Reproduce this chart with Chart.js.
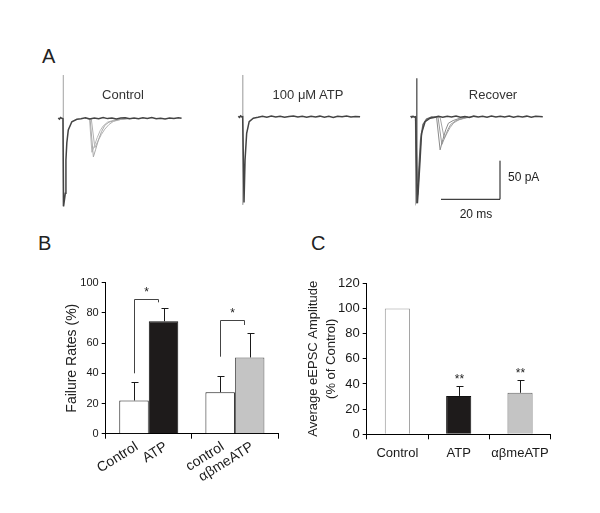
<!DOCTYPE html>
<html>
<head>
<meta charset="utf-8">
<script src="https://cdn.jsdelivr.net/npm/chart.js@4.4.1/dist/chart.umd.min.js"></script>
<style>
body{margin:0;background:#fff;width:600px;height:513px;position:relative;overflow:hidden;font-family:"Liberation Sans",Arial,sans-serif;color:#222}
.box{position:absolute}
.lbl{position:absolute;white-space:nowrap;line-height:1}
.ctr{transform:translateX(-50%)}
</style>
</head>
<body>
<div class="lbl" style="left:42px;top:46px;font-size:20px">A</div>
<div class="lbl" style="left:38px;top:233px;font-size:20px">B</div>
<div class="lbl" style="left:311px;top:233px;font-size:20px">C</div>

<div class="box" style="left:50px;top:60px;width:140px;height:160px"><canvas id="trControl"></canvas></div>
<div class="box" style="left:230px;top:60px;width:140px;height:160px"><canvas id="trAtp"></canvas></div>
<div class="box" style="left:400px;top:60px;width:150px;height:160px"><canvas id="trRecover"></canvas></div>

<div class="lbl ctr" style="left:123px;top:88px;font-size:13px;color:#333">Control</div>
<div class="lbl ctr" style="left:308px;top:88px;font-size:13px;color:#333">100 μM ATP</div>
<div class="lbl ctr" style="left:493px;top:88px;font-size:13px;color:#333">Recover</div>
<div class="lbl" style="left:508px;top:171px;font-size:12px">50 pA</div>
<div class="lbl ctr" style="left:476px;top:208px;font-size:12px">20 ms</div>

<div class="box" style="left:30px;top:270px;width:270px;height:240px"><canvas id="chartB"></canvas></div>
<div class="box" style="left:300px;top:270px;width:290px;height:240px"><canvas id="chartC"></canvas></div>

<script>
// ---- panel A: example sweeps (time in ms, current in pA) ----
var ctrlT = [2.8, 3.2, 3.6, 4.0, 4.4, 4.6, 5.2, 5.4, 5.7, 6.2, 7.4, 9.1, 10.5, 12, 13.5, 15, 16.5, 18, 19.5, 21, 22.5, 24, 25.5, 27, 28.5, 30, 31.5, 33, 34.5, 36, 37.5, 39, 40.5, 42, 43.5, 44.6];
var ctrlV = [0.5, -1, 1, 0, -0.5, -114, -97, -54, -32, -15, -4.4, -1.3, -0.5, 0.6, -0.8, 0.4, -0.6, 0.9, -0.4, 0.5, -0.9, 0.3, 0.8, -0.5, 0.4, -0.7, 0.6, -0.3, 0.9, -0.6, 0.2, -0.8, 0.5, -0.4, 0.7, 0];
var ctrlArtT = [4.45, 4.5, 4.55];
var ctrlArtV = [0, 56, -114];
var ctrlEpsc1T = [12, 13.6, 14.7, 15.5, 16.5, 17.5, 18.6, 20, 23, 27];
var ctrlEpsc1V = [0, -1, -50, -40, -27, -17, -9, -5, -2, 0];
var ctrlEpsc2T = [12, 13.4, 14.2, 15, 16, 17, 18, 19.5, 22, 26];
var ctrlEpsc2V = [0, -1, -44, -36, -25, -16, -10, -5, -2, 0];
var ctrlEpsc3T = [12, 14.0, 15.2, 16.2, 17.4, 18.6, 20, 21.5, 24, 28];
var ctrlEpsc3V = [0, -1, -38, -30, -21, -14, -8, -4, -1.5, 0];

var atpT = [2.8, 3.2, 3.6, 4.0, 4.3, 4.75, 5.1, 5.65, 6.5, 7.9, 9.5, 11, 12.5, 14, 15.5, 17, 18.5, 20, 21.5, 23, 24.5, 26, 27.5, 29, 30.5, 32, 33.5, 35, 36.5, 38, 39.5, 41, 42.5, 44.1];
var atpV = [0.6, -0.8, 1, -0.3, 0, -111, -56, -21.5, -6.5, -2, -0.8, 0.5, -0.6, 0.8, -0.4, 0.6, -0.7, 0.3, 0.9, -0.5, 0.4, -0.8, 0.6, -0.3, 0.7, -0.6, 0.4, -0.9, 0.5, -0.2, 0.8, -0.5, 0.3, 0];
var atpArtT = [4.25, 4.3, 4.35];
var atpArtV = [0, 54, -114];

var recT = [3.6, 4.0, 4.4, 4.8, 5.3, 5.9, 6.2, 6.8, 7.3, 8.5, 10.2, 11.5, 13, 14.5, 16, 17.5, 19, 20.5, 22, 23.5, 25, 26.5, 28, 29.5, 31, 32.5, 34, 35.5, 37, 38.5, 40, 41.5, 43, 44.5, 46, 48.4];
var recV = [1, -0.8, 0.7, -0.5, 0, -112, -95, -56, -21.5, -6.5, -2, -1, 0.6, -0.8, 0.5, -0.4, 0.9, -0.6, 0.3, -0.9, 0.7, -0.3, 0.5, -0.7, 0.8, -0.4, 0.6, -0.5, 0.9, -0.8, 0.4, -0.3, 0.7, -0.6, 0.5, 0];
var rec2T = [5.3, 5.5, 6.0, 6.5, 7.0, 7.8, 9.0, 11];
var rec2V = [0, -108, -100, -62, -30, -10, -3, 0];
var recArtT = [5.6, 5.66, 5.72];
var recArtV = [0, 49.7, -112];
var recEpsc1T = [11, 12.4, 13.6, 14.5, 15.5, 16.4, 18, 20.3, 23];
var recEpsc1V = [0, -1, -43, -30, -17, -8.5, -5, -2, 0];
var recEpsc2T = [11, 12.9, 14.2, 15.2, 16.2, 17.2, 19, 21.5, 24];
var recEpsc2V = [0, -1, -36, -27, -17, -10, -5, -2, 0];
var recEpsc3T = [11, 13.6, 15.0, 16.0, 17.0, 18.2, 20, 22.5, 25];
var recEpsc3V = [0, -1, -28, -21, -14, -8, -4, -1.5, 0];

// scale bar: 20 ms, 50 pA
var scaleBarT = [13.9, 33.9, 33.9];
var scaleBarV = [-107, -107, -57];

// ---- panel B: failure rates (%) ----
var failLabels = ['Control', 'ATP', 'control', 'αβmeATP'];
var failControl = [22, 27.5];
var failControlErr = [12, 10.5];
var failDrug = [74.5, 50.5];
var failDrugErr = [9, 16];
var sigBrackets = [[40, 89, 87], [51, 75, 72]];
var sigStars = ['*', '*'];

// ---- panel C: eEPSC amplitude (% of control) ----
var ampLabels = ['Control', 'ATP', 'αβmeATP'];
var ampValues = [100, 30.5, 33];
var ampErr = [0, 7.7, 10];
var ampStars = ['', '**', '**'];

var FONT = '"Liberation Sans", Arial, sans-serif';

function pts(t, v) {
  return t.map(function(x, i) { return {x: x, y: v[i]}; });
}

function trace(t, v, color, width) {
  return {data: pts(t, v), borderColor: color, borderWidth: width, showLine: true, pointRadius: 0, tension: 0};
}

function traceChart(id, xMax, yMin, yMax, sets) {
  new Chart(document.getElementById(id), {
    type: 'scatter',
    data: {datasets: sets},
    options: {
      responsive: true, maintainAspectRatio: false, animation: false,
      layout: {padding: 0},
      plugins: {legend: {display: false}, tooltip: {enabled: false}},
      scales: {
        x: {type: 'linear', display: false, min: 0, max: xMax},
        y: {type: 'linear', display: false, min: yMin, max: yMax}
      }
    }
  });
}

// first dataset is painted on top
traceChart('trControl', 140 / 2.95, -131.7, 75.5, [
  trace(ctrlT, ctrlV, '#444', 1.5),
  trace(ctrlArtT, ctrlArtV, '#b5b5b5', 1),
  trace(ctrlEpsc1T, ctrlEpsc1V, '#a8a8a8', 1),
  trace(ctrlEpsc2T, ctrlEpsc2V, '#b8b8b8', 1),
  trace(ctrlEpsc3T, ctrlEpsc3V, '#b0b0b0', 1)
]);

traceChart('trAtp', 140 / 2.95, -133.8, 73.4, [
  trace(atpT, atpV, '#444', 1.5),
  trace(atpArtT, atpArtV, '#b5b5b5', 1)
]);

traceChart('trRecover', 150 / 2.95, -133.8, 73.4, [
  trace(recT, recV, '#444', 1.5),
  trace(scaleBarT, scaleBarV, '#111', 1),
  trace(rec2T, rec2V, '#6a6a6a', 1.5),
  trace(recArtT, recArtV, '#666', 1.5),
  trace(recEpsc1T, recEpsc1V, '#8a8a8a', 1),
  trace(recEpsc2T, recEpsc2V, '#9a9a9a', 1),
  trace(recEpsc3T, recEpsc3V, '#a5a5a5', 1)
]);

// error bars (+SEM) and significance marks
var errorBars = {
  id: 'errorBars',
  afterDatasetsDraw: function(chart) {
    var ctx = chart.ctx, y = chart.scales.y;
    ctx.save();
    ctx.lineWidth = 1;
    ctx.strokeStyle = '#1a1a1a';
    ctx.fillStyle = '#222';
    ctx.font = '12px ' + FONT;
    ctx.textAlign = 'center';
    ctx.textBaseline = 'middle';
    chart.data.datasets.forEach(function(ds, di) {
      chart.getDatasetMeta(di).data.forEach(function(bar, i) {
        var e = ds.errors ? ds.errors[i] : 0;
        if (!e) return;
        var x = Math.round(bar.x) + 0.5;
        var top = Math.round(y.getPixelForValue(ds.data[i] + e)) + 0.5;
        ctx.beginPath();
        ctx.moveTo(x, bar.y);
        ctx.lineTo(x, top);
        ctx.moveTo(x - 3, top);
        ctx.lineTo(x + 4, top);
        ctx.stroke();
        if (ds.stars && ds.stars[i]) ctx.fillText(ds.stars[i], x, top - 7);
      });
    });
    ctx.restore();
  }
};

// rotated per-bar labels for panel B
var barLabels = {
  id: 'barLabels',
  afterDraw: function(chart) {
    var ctx = chart.ctx, bottom = chart.chartArea.bottom;
    ctx.save();
    ctx.fillStyle = '#1a1a1a';
    ctx.textAlign = 'right';
    ctx.textBaseline = 'top';
    chart.data.datasets.forEach(function(ds, di) {
      chart.getDatasetMeta(di).data.forEach(function(bar, i) {
        var txt = ds.tickLabels[i];
        ctx.font = (txt.length > 7 ? 13 : 14) + 'px ' + FONT;
        ctx.save();
        ctx.translate(bar.x - 1, bottom + 6);
        ctx.rotate(-32 * Math.PI / 180);
        ctx.fillText(txt, 0, 0);
        ctx.restore();
      });
    });
    ctx.restore();
  }
};

var brackets = {
  id: 'brackets',
  afterDatasetsDraw: function(chart) {
    var ctx = chart.ctx, y = chart.scales.y;
    var m0 = chart.getDatasetMeta(0).data, m1 = chart.getDatasetMeta(1).data;
    ctx.save();
    ctx.strokeStyle = '#444';
    ctx.lineWidth = 1;
    ctx.fillStyle = '#222';
    ctx.font = '12px ' + FONT;
    ctx.textAlign = 'center';
    ctx.textBaseline = 'middle';
    sigBrackets.forEach(function(b, i) {
      var x0 = Math.round(m0[i].x) + 0.5;
      var x1 = Math.round(m1[i].x - 6) + 0.5;
      var yTop = Math.round(y.getPixelForValue(b[1])) + 0.5;
      ctx.beginPath();
      ctx.moveTo(x0, y.getPixelForValue(b[0]));
      ctx.lineTo(x0, yTop);
      ctx.lineTo(x1, yTop);
      ctx.lineTo(x1, y.getPixelForValue(b[2]));
      ctx.stroke();
      ctx.fillText(sigStars[i], (x0 + x1) / 2, yTop - 7);
    });
    ctx.restore();
  }
};

function axisX(h, showTicks) {
  return {
    ticks: {display: showTicks, color: '#1a1a1a', font: {size: 13, family: FONT}, padding: 6, maxRotation: 0},
    grid: {drawOnChartArea: false, color: '#000', tickLength: 5},
    border: {color: '#000', width: 1},
    afterFit: function(s) { s.height = h; }
  };
}

function axisY(w, max, size, title, titleSize, titlePad) {
  return {
    min: 0, max: max,
    ticks: {stepSize: 20, color: '#1a1a1a', font: {size: size, family: FONT}, padding: 3},
    grid: {drawOnChartArea: false, color: '#000', tickLength: 4},
    border: {color: '#000', width: 1},
    title: {display: true, text: title, color: '#222', font: {size: titleSize, family: FONT, lineHeight: 1.35}, padding: {top: titlePad, bottom: 0}},
    afterFit: function(s) { s.width = w; }
  };
}

new Chart(document.getElementById('chartB'), {
  type: 'bar',
  data: {
    labels: ['Control / ATP', 'control / αβmeATP'],
    datasets: [
      {data: failControl, errors: failControlErr, tickLabels: failLabels.filter(function(l, i) { return i % 2 === 0; }),
       backgroundColor: '#fff', borderColor: '#1a1a1a', borderWidth: 1},
      {data: failDrug, errors: failDrugErr, tickLabels: failLabels.filter(function(l, i) { return i % 2 === 1; }),
       backgroundColor: ['#1e1b1b', '#c4c4c4'], borderColor: ['#111', '#555'], borderWidth: 1}
    ]
  },
  options: {
    responsive: true, maintainAspectRatio: false, animation: false,
    layout: {padding: {top: 12.7, right: 22, left: 0, bottom: 0}},
    datasets: {bar: {categoryPercentage: 0.685, barPercentage: 1}},
    plugins: {legend: {display: false}, tooltip: {enabled: false}},
    scales: {
      x: axisX(76.3, false),
      y: axisY(75.7, 100, 11, 'Failure Rates (%)', 14, 33)
    }
  },
  plugins: [errorBars, brackets, barLabels]
});

new Chart(document.getElementById('chartC'), {
  type: 'bar',
  data: {
    labels: ampLabels,
    datasets: [
      {data: ampValues, errors: ampErr, stars: ampStars,
       backgroundColor: ['#fff', '#1e1b1b', '#c4c4c4'], borderColor: ['#999', '#111', '#666'], borderWidth: 1}
    ]
  },
  options: {
    responsive: true, maintainAspectRatio: false, animation: false,
    layout: {padding: {top: 13.3, right: 39.3, left: 0, bottom: 0}},
    datasets: {bar: {categoryPercentage: 1, barPercentage: 0.41}},
    plugins: {legend: {display: false}, tooltip: {enabled: false}},
    scales: {
      x: axisX(75.7, true),
      y: axisY(66.7, 120, 13, ['Average eEPSC Amplitude', '(% of Control)'], 13, 5)
    }
  },
  plugins: [errorBars]
});
</script>
</body>
</html>
